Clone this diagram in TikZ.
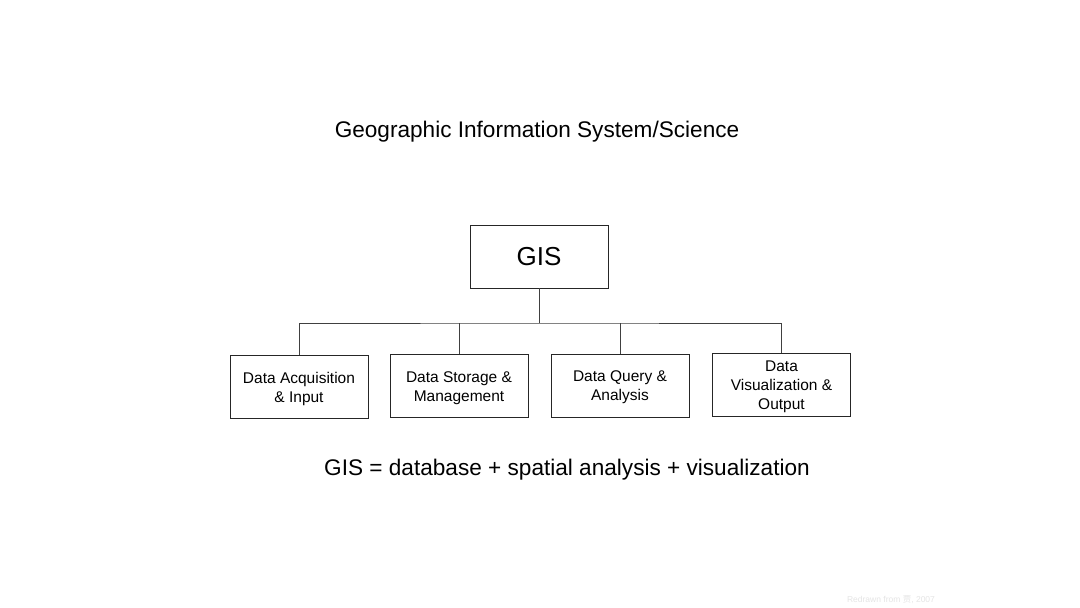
\documentclass[tikz,border=0pt]{standalone}
\usepackage{fontspec}
\setmainfont{Liberation Sans}
\newfontfamily\cjk{Noto Sans CJK SC}
\begin{document}
\begin{tikzpicture}[x=1pt,y=-1pt,
  box/.style={draw=black!85,line width=0.9pt,minimum width=138pt,minimum height=63pt,inner sep=0pt},
  boxtext/.style={align=center,inner sep=0pt,font=\fontsize{15.5}{19}\selectfont,yshift=-2pt},
  conn/.style={draw=black!75,line width=0.9pt}]
\useasboundingbox[fill=white] (0,0) rectangle (1080,608);
\node[font=\fontsize{22.6}{26}\selectfont] (title) at (537,131.5) {Geographic Information System/Science};
\node[box,font=\fontsize{26}{30}\selectfont] (gis) at (539,256.5) {GIS};
\node[box] (c1) at (299,386.5) {};
\node[box] (c2) at (459,386) {};
\node[box] (c3) at (620,385.5) {};
\node[box] (c4) at (781.5,385) {};
\node[boxtext] (t1) at (c1.center) {Data Acquisition\\\& Input};
\node[boxtext] (t2) at (c2.center) {Data Storage \&\\Management};
\node[boxtext] (t3) at (c3.center) {Data Query \&\\Analysis};
\node[boxtext] (t4) at (c4.center) {Data\\Visualization \&\\Output};
\coordinate (bus) at (539,323);
\draw[conn] (gis.south) -- (bus);
\draw[conn] (c1.north) |- (bus) -| (c4.north);
\draw[conn] (c2.north) -- (c2.north |- bus);
\draw[conn] (c3.north) -- (c3.north |- bus);
\node[font=\fontsize{22.6}{26}\selectfont] (eq) at (567,469.5) {GIS = database + spatial analysis + visualization};
\node[font=\fontsize{8.5}{9}\selectfont,text=black!10] (src) at (891,600) {Redrawn from {\cjk 贾}, 2007};
\end{tikzpicture}
\end{document}
